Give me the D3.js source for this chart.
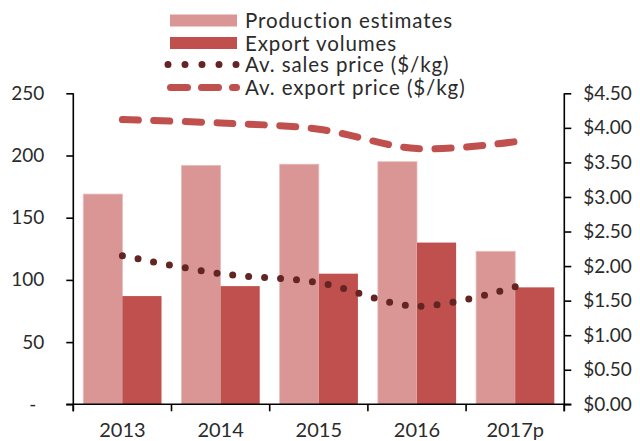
<!DOCTYPE html>
<html>
<head>
<meta charset="utf-8">
<script src="https://cdn.jsdelivr.net/npm/d3@7"></script>
<style>
  body { margin: 0; background: #fff; }
  svg text { font-family: Lato, "Open Sans", sans-serif; fill: #2b2b2b; }
</style>
</head>
<body>
<script>
// chart data
var years = ["2013", "2014", "2015", "2016", "2017p"];
var production = [169, 192, 193, 195, 123];
var exportVol = [87, 95, 105, 130, 94];
var salesPrice = [2.15, 1.89, 1.76, 1.42, 1.70];
var exportPrice = [4.12, 4.07, 3.98, 3.70, 3.80];
var leftTicks = [0, 50, 100, 150, 200, 250];
var rightTicks = [0, 0.5, 1, 1.5, 2, 2.5, 3, 3.5, 4, 4.5];
var seriesNames = ["Production estimates", "Export volumes", "Av. sales price ($/kg)", "Av. export price ($/kg)"];

var W = 640, H = 441;
var plotL = 73.3, plotR = 564.3, plotT = 93.3, plotB = 404.3;
var colProd = "#d99694", colExp = "#c0504d", colDots = "#632523";

var svg = d3.select("body").append("svg")
  .attr("width", W).attr("height", H);

var x = d3.scaleBand().domain(years).range([plotL, plotR]).padding(0);
var xSub = d3.scaleBand().domain(["prod", "exp"]).range([0, x.bandwidth()])
  .paddingInner(0).paddingOuter(0.255);
var yL = d3.scaleLinear().domain([0, 250]).range([plotB, plotT]);
var yR = d3.scaleLinear().domain([0, 4.5]).range([plotB, plotT]);

// bars
svg.append("g").selectAll("rect").data(production).join("rect")
  .attr("x", function(d, i){ return x(years[i]) + xSub("prod"); })
  .attr("y", function(d){ return yL(d); })
  .attr("width", xSub.bandwidth())
  .attr("height", function(d){ return plotB - yL(d); })
  .attr("fill", colProd)
  .attr("stroke", "#e8bcbb").attr("stroke-width", 0.8);

svg.append("g").selectAll("rect").data(exportVol).join("rect")
  .attr("x", function(d, i){ return x(years[i]) + xSub("exp"); })
  .attr("y", function(d){ return yL(d); })
  .attr("width", xSub.bandwidth())
  .attr("height", function(d){ return plotB - yL(d); })
  .attr("fill", colExp);

// price lines
var line = d3.line()
  .x(function(d, i){ return x(years[i]) + x.bandwidth() / 2; })
  .y(function(d){ return yR(d); })
  .curve(d3.curveCatmullRom.alpha(0));

svg.append("path").datum(exportPrice)
  .attr("d", line)
  .attr("fill", "none").attr("stroke", colExp)
  .attr("stroke-width", 7).attr("stroke-linecap", "round")
  .attr("stroke-dasharray", "16 15.5");

svg.append("path").datum(salesPrice)
  .attr("d", line)
  .attr("fill", "none").attr("stroke", colDots)
  .attr("stroke-width", 7).attr("stroke-linecap", "round")
  .attr("stroke-dasharray", "0 16");

// axes
var gx = svg.append("g").attr("transform", "translate(0," + plotB + ")")
  .call(d3.axisBottom(x).tickSize(0).tickPadding(19));
gx.select(".domain").remove();
gx.selectAll("text").attr("font-size", 20).attr("font-family", null);
gx.selectAll(".bt").data(d3.range(years.length + 1)).join("line")
  .attr("x1", function(i){ return plotL + i * x.step(); })
  .attr("x2", function(i){ return plotL + i * x.step(); })
  .attr("y1", 0).attr("y2", 7)
  .attr("stroke", "#000").attr("stroke-width", 1.6);
gx.append("line").attr("x1", plotL - 7).attr("x2", plotR + 7)
  .attr("y1", 0).attr("y2", 0)
  .attr("stroke", "#000").attr("stroke-width", 1.6);

var gl = svg.append("g").attr("transform", "translate(" + plotL + ",0)")
  .call(d3.axisLeft(yL).tickValues(leftTicks).tickSize(7).tickPadding(22)
    .tickFormat(function(d){ return d === 0 ? "-" : d; }));
gl.select(".domain").attr("d", "M0," + plotT + "V" + (plotB + 7))
  .attr("stroke-width", 1.6);
gl.selectAll(".tick line").attr("stroke-width", 1.6);
gl.selectAll("text").attr("font-size", 19).attr("font-family", null)
  .attr("dx", function(d){ return d === 0 ? -8 : 0; });

var gr = svg.append("g").attr("transform", "translate(" + plotR + ",0)")
  .call(d3.axisRight(yR).tickValues(rightTicks).tickSize(7).tickPadding(12)
    .tickFormat(function(d){ return "$" + d3.format(".2f")(d); }));
gr.select(".domain").attr("d", "M0," + plotT + "V" + (plotB + 7))
  .attr("stroke-width", 1.6);
gr.selectAll(".tick line").attr("stroke-width", 1.6);
gr.selectAll("text").attr("font-size", 19).attr("font-family", null);

// legend
var lg = svg.append("g");
var rowY = [20.5, 43, 64.5, 87.5];
lg.append("rect").attr("x", 170).attr("y", rowY[0] - 6).attr("width", 67).attr("height", 12).attr("fill", colProd);
lg.append("rect").attr("x", 170).attr("y", rowY[1] - 6).attr("width", 67).attr("height", 12).attr("fill", colExp);
lg.append("line").attr("x1", 168).attr("x2", 236.5).attr("y1", rowY[2]).attr("y2", rowY[2])
  .attr("stroke", colDots).attr("stroke-width", 7).attr("stroke-linecap", "round")
  .attr("stroke-dasharray", "0 17");
lg.append("line").attr("x1", 170.5).attr("x2", 236.5).attr("y1", rowY[3]).attr("y2", rowY[3])
  .attr("stroke", colExp).attr("stroke-width", 7).attr("stroke-linecap", "round")
  .attr("stroke-dasharray", "17 14");
lg.selectAll("text").data(seriesNames).join("text")
  .attr("x", 245)
  .attr("y", function(d, i){ return rowY[i] + 7.5; })
  .attr("font-size", 20.5)
  .attr("letter-spacing", 0.9)
  .text(function(d){ return d; });
</script>
</body>
</html>
